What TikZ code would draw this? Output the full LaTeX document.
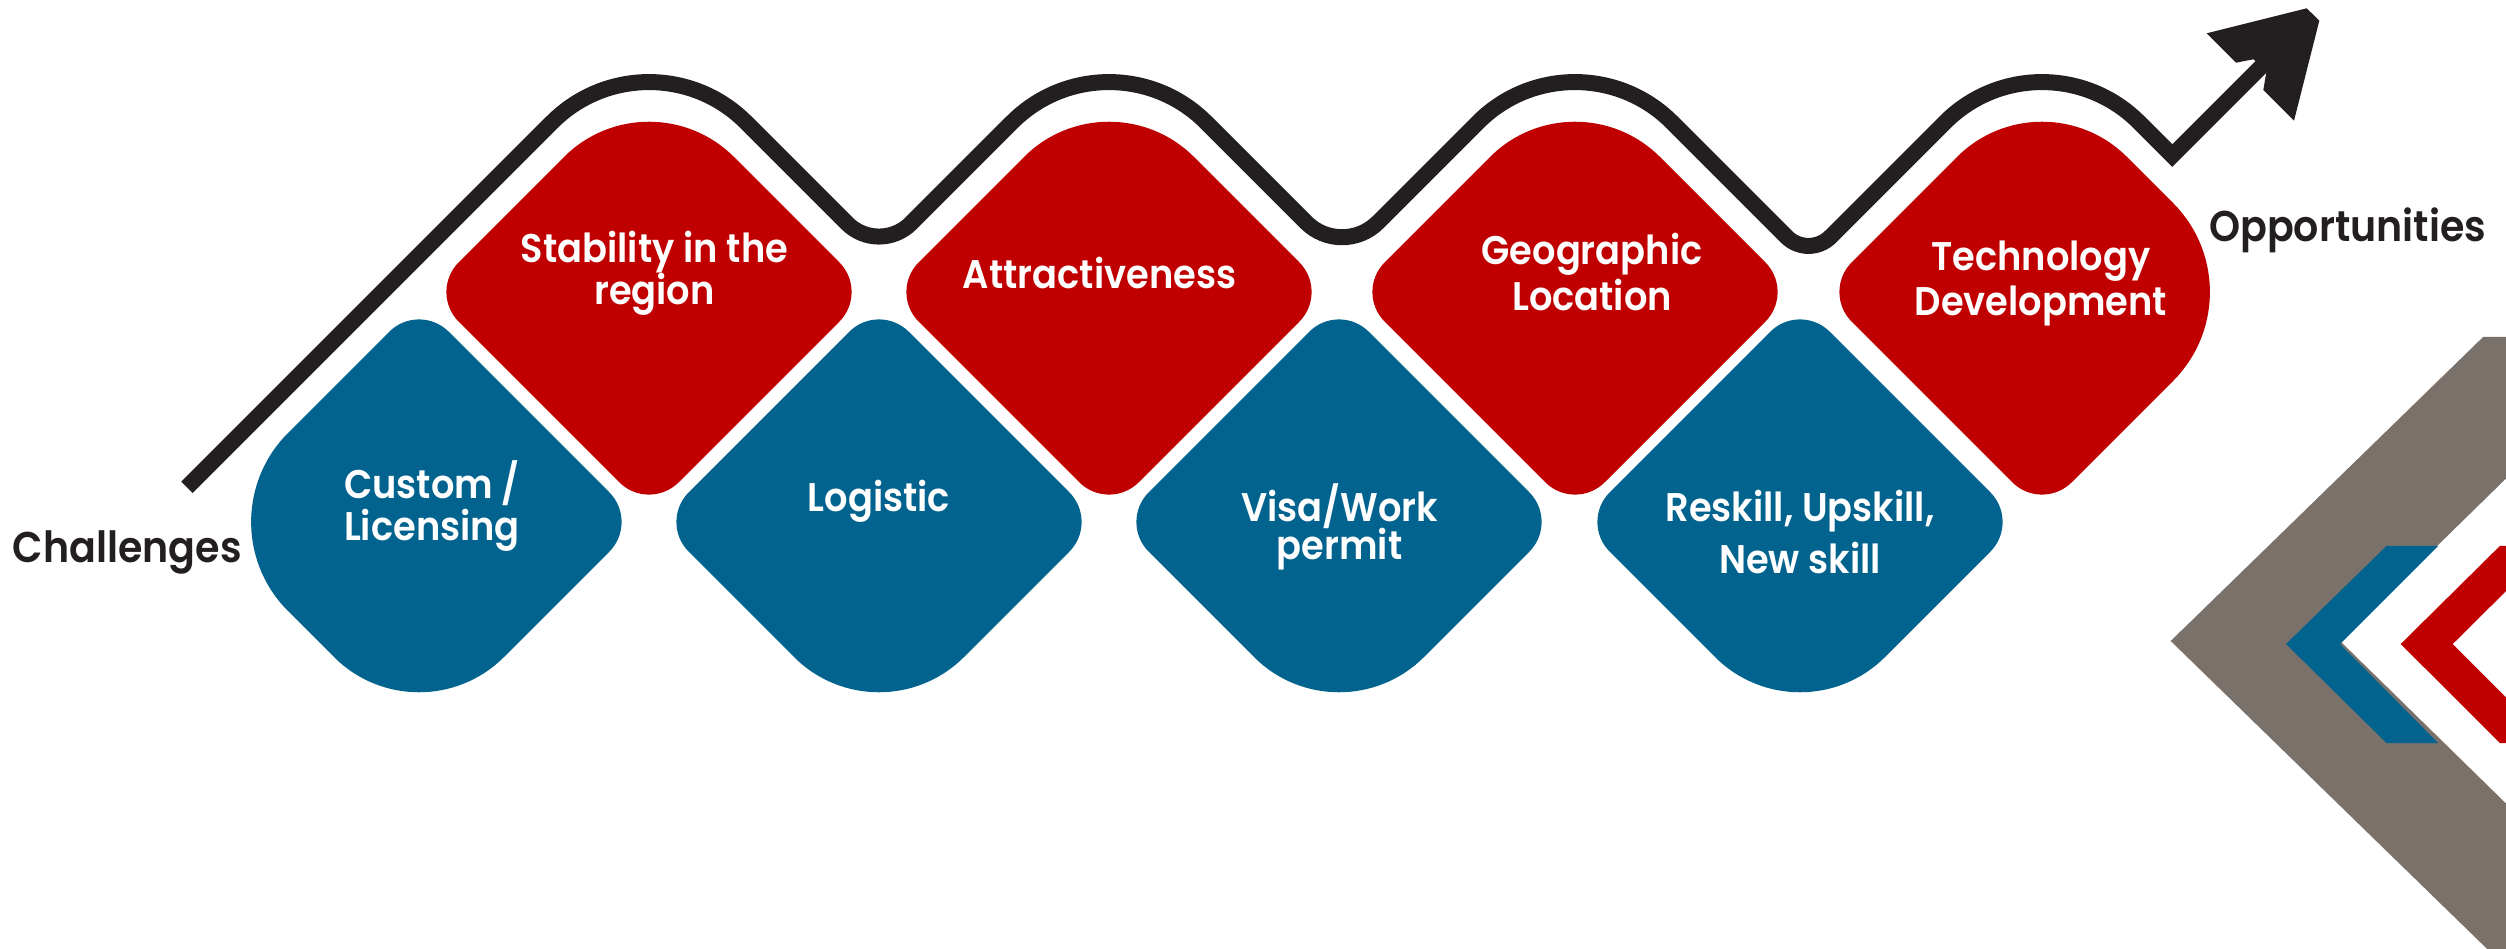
\documentclass[tikz,border=0pt]{standalone}
\usepackage{fontspec}
\newfontfamily\dfont{Poppins SemiBold}[FakeStretch=0.92]
\definecolor{dred}{HTML}{C00000}
\definecolor{dblue}{HTML}{02638F}
\definecolor{dgray}{HTML}{7A716B}
\definecolor{ink}{HTML}{231F20}
\newcommand\twol[3]{\vtop{\baselineskip=#1pt\lineskiplimit=-100pt\halign{\hfil##\hfil\cr #2\cr #3\cr}}}
% diamond: cx, cy, sL, sT, sR, sB, colour
\newcommand\dmd[7]{%
\fill[#7] ({#1-220+#3},{#2-#3}) -- ({#1-#4},{#2-220+#4})
 .. controls ({#1-0.4477*#4},{#2-220+0.4477*#4}) and ({#1+0.4477*#4},{#2-220+0.4477*#4}) .. ({#1+#4},{#2-220+#4})
 -- ({#1+220-#5},{#2-#5})
 .. controls ({#1+220-0.4477*#5},{#2-0.4477*#5}) and ({#1+220-0.4477*#5},{#2+0.4477*#5}) .. ({#1+220-#5},{#2+#5})
 -- ({#1+#6},{#2+220-#6})
 .. controls ({#1+0.4477*#6},{#2+220-0.4477*#6}) and ({#1-0.4477*#6},{#2+220-0.4477*#6}) .. ({#1-#6},{#2+220-#6})
 -- ({#1-220+#3},{#2+#3})
 .. controls ({#1-220+0.4477*#3},{#2+0.4477*#3}) and ({#1-220+0.4477*#3},{#2-0.4477*#3}) .. ({#1-220+#3},{#2-#3})
 -- cycle;}
\tikzset{
  dtext/.style={text=white, font=\dfont\fontsize{40}{44}\selectfont, anchor=base, inner sep=0pt},
  ltext/.style={text=ink, font=\dfont\fontsize{43}{48}\selectfont, anchor=base west, inner sep=0pt},
  wave/.style={draw=ink, line width=16pt, line join=miter, line cap=butt},
}
\begin{document}
\begin{tikzpicture}[x=1pt,y=-1pt]
\useasboundingbox (0,0) rectangle (2506,949);
\fill[white] (0,0) rectangle (2506,949);
% chevrons
\begin{scope}
\clip (0,0) rectangle (2506,949);
\fill[dgray] (2483.3,336.8) -- (2530,336.8) -- (2530,455) -- (2340,641) -- (2530,827) -- (2530,980) -- (2519,980) -- (2170.7,641) -- cycle;
\fill[dblue] (2386.7,545.8) -- (2438.3,545.8) -- (2340,644) -- (2438.3,743.2) -- (2386.7,743.2) -- (2286,644) -- cycle;
\fill[dred] (2500,545.8) -- (2551.6,545.8) -- (2452.7,644) -- (2551.6,743.2) -- (2500,743.2) -- (2400.7,644) -- cycle;
\end{scope}
% diamonds
\dmd{649}{292}{29.7}{84.9}{29.7}{29.7}{dred}
\dmd{1109}{292}{29.7}{84.9}{29.7}{29.7}{dred}
\dmd{1575}{292}{29.7}{84.9}{29.7}{29.7}{dred}
\dmd{2042}{292}{29.7}{84.9}{89}{29.7}{dred}
\dmd{419}{522}{89}{29.7}{29.7}{84.9}{dblue}
\dmd{879}{522}{29.7}{29.7}{29.7}{84.9}{dblue}
\dmd{1339}{522}{29.7}{29.7}{29.7}{84.9}{dblue}
\dmd{1800}{522}{29.7}{29.7}{29.7}{84.9}{dblue}
% wave line
\coordinate (ws) at (187,487.3);
\coordinate (we) at (2268,59.9);
\draw[wave] (ws) -- (552.1,122.2)
  .. controls (605.6,68.7) and (692.4,68.7) .. (745.9,122.2)
  -- (847,223.3) .. controls (864.7,241) and (893.3,241) .. (911,223.3)
  -- (1012.1,122.2) .. controls (1065.6,68.7) and (1152.4,68.7) .. (1205.9,122.2)
  -- (1306,222.3) .. controls (1325.9,242.2) and (1358.1,242.2) .. (1378,222.3)
  -- (1478.1,122.2) .. controls (1531.6,68.7) and (1618.4,68.7) .. (1671.9,122.2)
  -- (1786.5,236.8) .. controls (1798.65,248.95) and (1818.35,248.95) .. (1830.5,236.8)
  -- (1945.1,122.2) .. controls (1998.6,68.7) and (2085.4,68.7) .. (2138.9,122.2)
  -- (2172.3,155.6) -- (we);
\fill[ink] (2206.7,33.3) -- (2306.7,8.3) -- (2319.3,20.7) -- (2294,120.7) -- (2263.3,90) -- (2266.7,70) -- (2253.3,59.3) -- (2236,62.7) -- cycle;
% texts
\node[dtext] (r1) at (654.5,262.8) {\twol{42.2}{Stability in the}{region}};
\node[dtext] (r2) at (1099.5,288.8) {Attractiveness};
\node[dtext] (r3) at (1592,265) {\twol{46}{Geographic}{Location}};
\node[dtext] (r4) at (2041,271) {\twol{44.7}{Technology}{Development}};
\node[dtext] (b1) at (432,498.2) {\twol{41.8}{Custom /}{Licensing}};
\node[dtext] (b2) at (879,511) {Logistic};
\node[dtext] (b3) at (1339.5,521) {\twol{38.3}{Visa/Work}{permit}};
\node[dtext] (b4) at (1800,521.8) {\twol{51.7}{Reskill, Upskill,}{New skill}};
\node[ltext] (ch) at (12.7,562.7) {Challenges};
\node[ltext] (op) at (2209,241.7) {Opportunities};
\end{tikzpicture}
\end{document}
